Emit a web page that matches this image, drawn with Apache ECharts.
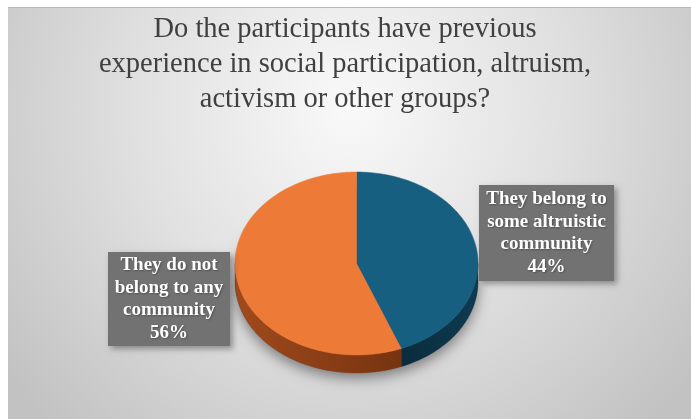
<!DOCTYPE html>
<html><head><meta charset="utf-8">
<script src="https://cdn.jsdelivr.net/npm/echarts@6/dist/echarts.min.js"></script>
<style>html,body{margin:0;padding:0;background:#fff;overflow:hidden}#c{width:691px;height:419px}</style>
</head><body><div id="c"></div><script>
// ---- data ----
const titleLines = ['Do the participants have previous', 'experience in social participation, altruism,', 'activism or other groups?'];
const categories = ['They belong to some altruistic community', 'They do not belong to any community'];
const values = [44, 56];
const labelLines = [['They belong to', 'some altruistic', 'community'], ['They do not', 'belong to any', 'community']];

// ---- style ----
const topColors = ['#175F80', '#EE7A37'];
const sideColors = [['#0E3A50', '#0A2C3D'], ['#A04A1C', '#773310']];
const geo = { cx: 356.5, cy: 263.5, rx: 121.5, ry: 91.5, h: 18 };
const labelBoxes = [
  { x: 546.5, y: 233, w: 135, h: 96 },
  { x: 169, y: 299, w: 122, h: 94 }
];
const SERIF = 'Liberation Serif';

const total = values.reduce((a, b) => a + b, 0);
function pt(t, dy) { return [geo.cx + geo.rx * Math.sin(t), geo.cy - geo.ry * Math.cos(t) + (dy || 0)]; }
function arcPts(a, b, dy) {
  const n = Math.max(2, Math.ceil((b - a) / 0.02));
  const out = [];
  for (let i = 0; i <= n; i++) out.push(pt(a + (b - a) * i / n, dy));
  return out;
}

const chart = echarts.init(document.getElementById('c'), null, { renderer: 'canvas' });
chart.setOption({
  backgroundColor: '#ffffff',
  animation: false,
  graphic: [
    {
      type: 'rect', z: -10, shape: { x: 8, y: 7, width: 683, height: 412 },
      style: {
        fill: { type: 'radial', x: 0.5, y: 0.25, r: 1.05, colorStops: [
          { offset: 0, color: '#F9F9F9' }, { offset: 0.5, color: '#E0E0E0' }, { offset: 1, color: '#C2C2C2' }] }
      }
    },
    { type: 'line', z: -9, shape: { x1: 8, y1: 7.5, x2: 691, y2: 7.5 }, style: { stroke: '#B8B8B8', lineWidth: 1 } },
    {
      type: 'text', x: 345, y: 12, z: 5,
      style: {
        text: titleLines.join('\n'), fill: '#404040', align: 'center', verticalAlign: 'top',
        fontFamily: SERIF, fontSize: 28.5, fontWeight: 'normal', lineHeight: 35
      }
    }
  ],
  series: [{
    type: 'custom',
    coordinateSystem: 'none',
    data: values.map((v, i) => ({ name: categories[i], value: v })),
    renderItem: function (params, api) {
      const i = params.dataIndex;
      let start = 0;
      for (let k = 0; k < i; k++) start += values[k];
      const v = api.value(0);
      const a = start / total * 2 * Math.PI;
      const b = (start + v) / total * 2 * Math.PI;
      const children = [];
      if (i === 0) {
        children.push({
          type: 'polygon', z2: 0, shape: { points: arcPts(0, 2 * Math.PI, geo.h) },
          style: { fill: '#777', shadowBlur: 14, shadowColor: 'rgba(0,0,0,0.45)', shadowOffsetY: 5 }
        });
      }
      const s = Math.max(a, Math.PI / 2), e = Math.min(b, 3 * Math.PI / 2);
      if (e > s) {
        const top = arcPts(s, e, 0), bot = arcPts(s, e, geo.h).reverse();
        children.push({
          type: 'polygon', z2: 1, shape: { points: top.concat(bot) },
          style: {
            fill: new echarts.graphic.LinearGradient(0, 0, 1, 0, [
              { offset: 0, color: sideColors[i][i === 0 ? 1 : 0] }, { offset: 1, color: sideColors[i][i === 0 ? 0 : 1] }]),
            stroke: sideColors[i][1], lineWidth: 0.3
          }
        });
      }
      children.push({
        type: 'polygon', z2: 2,
        shape: { points: [[geo.cx, geo.cy]].concat(arcPts(a, b, 0)) },
        style: { fill: topColors[i], stroke: topColors[i], lineWidth: 0.5 }
      });
      const box = labelBoxes[i];
      children.push({
        type: 'text', z2: 5, x: box.x, y: box.y,
        style: {
          text: labelLines[i].concat([Math.round(v / total * 100) + '%']).join('\n'),
          fill: '#ffffff', align: 'center', verticalAlign: 'middle',
          fontFamily: SERIF, fontSize: 19, fontWeight: 'bold', lineHeight: 22.5,
          width: box.w, height: box.h - 6, padding: [3, 0],
          backgroundColor: '#727272',
          shadowBlur: 6, shadowColor: 'rgba(0,0,0,0.35)', shadowOffsetX: 3, shadowOffsetY: 3,
          textShadowColor: 'rgba(0,0,0,0.3)', textShadowBlur: 2, textShadowOffsetX: 1, textShadowOffsetY: 1
        }
      });
      return { type: 'group', children: children };
    }
  }]
});
</script></body></html>
